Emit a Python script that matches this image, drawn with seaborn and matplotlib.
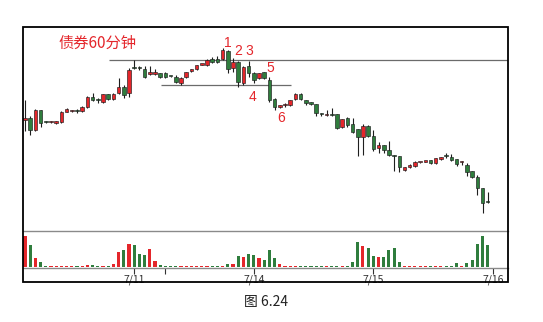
import matplotlib
matplotlib.use("Agg")
import numpy as np
import pandas as pd
import seaborn as sns
import matplotlib.pyplot as plt
from matplotlib.patches import Rectangle

# ---------------- data (60-minute bars, arbitrary price units) ----------------
opens = [130, 132, 120, 140, 128, 128, 127, 128, 138, 139,
         139, 139, 143, 153, 150, 148, 156, 151, 157, 163,
         157, 182, 183, 181, 176.5, 176, 177, 177, 174, 173,
         167, 173, 179, 181, 185.5, 185, 191, 191, 191, 199,
         182, 188, 167, 184, 177, 172, 178, 170, 151, 143,
         145, 145, 151, 156, 150, 148, 146, 136, 135, 135,
         136, 123, 132, 126, 121, 113, 124, 114, 102, 105,
         100, 95, 94, 80, 83, 84, 88, 88.5, 90, 87,
         91, 94, 93, 91, 88, 85, 79, 73, 62, 48.3]
highs = [150, 134, 141, 140, 129, 129, 129.5, 139, 142, 140.5,
         141, 144, 154, 157, 152, 156.5, 156.5, 157, 172, 165,
         182, 190, 184, 184, 184, 181, 177.5, 178, 174.5, 175,
         173, 178.5, 181.5, 185.5, 186.5, 191, 193, 194, 202, 200,
         192, 189, 184, 189, 178, 177.5, 178.5, 173, 152, 145.5,
         147, 150.5, 157, 157, 150.5, 148.5, 146.5, 137, 140, 142,
         136.5, 131.5, 133, 132, 121.5, 126, 125.5, 120, 108, 105,
         109, 95, 94.5, 83.5, 86.5, 89, 88.5, 89.5, 90.5, 92.5,
         93.5, 97, 96, 91.5, 89.5, 87, 79.5, 75, 62.5, 58]
lows = [119, 115, 119, 123, 127, 127, 126.5, 127.5, 138, 138,
        137.5, 138, 142, 149.5, 147, 147.5, 150.5, 150, 156, 152,
        153, 181, 180, 172.5, 175, 175, 172.5, 172, 173, 167,
        165, 172.5, 178.5, 180.5, 185, 184.5, 187, 187, 190.5, 177,
        178, 163, 165, 173, 167, 171.5, 171, 148, 140, 142.5,
        143, 144.5, 150, 150, 145, 145.5, 134, 134.5, 134.5, 134.5,
        121.5, 122.5, 123, 117, 94, 95, 113, 99, 97, 97,
        94, 79, 78, 79.5, 82, 83, 87, 88, 86.5, 86.5,
        90.5, 92, 89, 84, 85, 74, 72, 55, 37, 47.5]
closes = [132, 120, 140, 127, 127.8, 128.2, 129, 138, 141, 139.2,
          138.8, 143, 153, 150, 149.8, 156, 151, 156, 163, 155,
          180, 181.7, 182, 173, 177, 178, 173, 173, 173.8, 168,
          172, 178, 181, 185, 186, 190, 188, 188, 200, 181,
          188, 168, 183, 177, 170, 177, 172, 150, 143, 145,
          145.3, 150, 156, 151, 147, 146, 137, 135.8, 135.2, 134.8,
          122, 131, 125, 118, 113, 124, 114, 101, 105, 100,
          95, 94, 83, 83, 85, 88, 88.2, 89, 87, 92,
          93, 93.8, 90, 86, 88.3, 78, 73, 62, 47, 48]
volumes = [31, 22, 8.6, 4.6, 1, 1, 1, 1, 1, 1,
           1, 1, 2, 2, 1.5, 1.5, 1.5, 3.3, 14.6, 16.6,
           23.3, 21.6, 13, 12.3, 18, 5.6, 2.3, 1, 1, 1,
           1, 1, 1, 1, 1, 1, 1, 1, 1, 3,
           3.3, 10.6, 9.6, 13.3, 11.6, 8.6, 7, 16.6, 8.6, 3,
           1, 1, 1, 1, 1, 1, 1, 1, 1, 1,
           1, 1, 1.5, 5, 25, 21, 19, 11.3, 10, 10,
           17.3, 18.6, 4.6, 1, 1, 1, 1, 1, 1, 1,
           1, 1, 1.5, 4, 1, 4, 7, 23.3, 30.6, 21.6]

tick_pos = [21, 44, 67, 90]
tick_labels = ["7/11", "7/14", "7/15", "7/16"]
minor_tick_pos = [27]

# horizontal reference lines: level, start bar, end bar
level_values = [190, 165.3]
level_starts = [16.2, 26.1]
level_ends = [92.9, 51.1]

# numbered annotations: label, bar position, price
mark_labels = ["1", "2", "3", "4", "5", "6"]
mark_x = [39.1, 41.0, 43.1, 43.8, 47.1, 49.2]
mark_y = [207, 199, 199, 153, 182, 132]

title_text = "债券60分钟"
caption_text = "图 6.24"

RED = "#e4262b"
GREEN = "#2f7d3d"
EDGE = "#1e1e1e"

# ---------------- build frame ----------------
n = len(opens)
df = pd.DataFrame({"bar": np.arange(n), "open": opens, "high": highs,
                   "low": lows, "close": closes, "volume": volumes})
df["dir"] = np.where(df["close"] >= df["open"], "up", "down")
df["body_low"] = df[["open", "close"]].min(axis=1)
df["body_h"] = (df["close"] - df["open"]).abs().clip(lower=1.2)

sns.set_theme(style="white")
plt.rcParams["font.family"] = ["Noto Sans CJK SC", "DejaVu Sans"]

W, H = 543, 322
fig = plt.figure(figsize=(W / 100, H / 100), dpi=100)
fig.patch.set_facecolor("white")


def rect(x0, y0, x1, y1):
    return [x0 / W, 1 - y1 / H, (x1 - x0) / W, (y1 - y0) / H]


axp = fig.add_axes(rect(23, 27, 508, 231))
axv = fig.add_axes(rect(23, 231, 508, 268), sharex=axp)

# ---------------- candles ----------------
colors = df["dir"].map({"up": RED, "down": GREEN})
axp.vlines(df["bar"], df["low"], df["high"], color=EDGE, lw=0.8, zorder=2)
axp.bar(df["bar"], df["body_h"], bottom=df["body_low"], width=0.68,
        color=colors, edgecolor=EDGE, linewidth=0.45, zorder=3)

axp.hlines(level_values, level_starts, level_ends, color="#6b6b6b", lw=0.9, zorder=1)
for t, x, y in zip(mark_labels, mark_x, mark_y):
    axp.text(x, y, t, color=RED, fontsize=10, ha="center", va="center",
             family=["Liberation Sans", "DejaVu Sans"])

axp.set_ylim(19, 223)
axp.set_xlim(-0.38, 92.9)
axp.set_xticks([])
axp.set_yticks([])
for s in axp.spines.values():
    s.set_visible(False)

# ---------------- volume ----------------
sns.barplot(data=df, x="bar", y="volume", hue="dir", palette={"up": RED, "down": GREEN},
            native_scale=True, width=0.6, dodge=False, errorbar=None, legend=False,
            saturation=1, ax=axv, zorder=3, edgecolor="none", linewidth=0)
axv.set_xlim(-0.38, 92.9)
axv.set_ylim(-1.0, 36)
axv.set_yticks([])
axv.set_ylabel("")
axv.set_xlabel("")
axv.set_xticks(tick_pos)
axv.set_xticklabels(tick_labels)
axv.set_xticks(minor_tick_pos, minor=True)
axv.tick_params(axis="x", which="both", bottom=True, direction="out", length=4,
                width=0.8, color="#333333", labelsize=7.5, labelcolor="#333333", pad=1.0)
axv.spines["left"].set_visible(False)
axv.spines["right"].set_visible(False)
for side in ("top", "bottom"):
    axv.spines[side].set_color("#8a8a8a")
    axv.spines[side].set_linewidth(1.0)

# outer frame
fig.add_artist(Rectangle((23 / W, 1 - 282 / H), 485 / W, 255 / H, transform=fig.transFigure,
                         fill=False, ec="black", lw=1.3))

fig.text(97 / W, 1 - 43 / H, title_text, color=RED, fontsize=11, ha="center", va="center")
fig.text(266 / W, 1 - 302 / H, caption_text, color="#222222", fontsize=10,
         ha="center", va="center")

fig.savefig("out.png", dpi=100, facecolor="white")
